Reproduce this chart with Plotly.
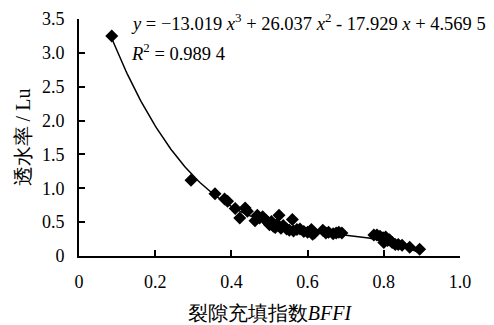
import numpy as np
import plotly.graph_objects as go

bffi = [0.086, 0.294, 0.357, 0.382, 0.390, 0.410, 0.422, 0.436, 0.442, 0.462, 0.468, 0.474,
        0.482, 0.490, 0.496, 0.500, 0.505, 0.510, 0.515, 0.520, 0.525, 0.530, 0.536, 0.545,
        0.552, 0.560, 0.563, 0.572, 0.580, 0.590, 0.600, 0.610, 0.613, 0.618, 0.640, 0.648,
        0.655, 0.667, 0.675, 0.682, 0.690, 0.774, 0.782, 0.790, 0.798, 0.800, 0.805, 0.810,
        0.815, 0.822, 0.830, 0.838, 0.848, 0.868, 0.894]
lu = [3.25, 1.12, 0.92, 0.84, 0.81, 0.70, 0.56, 0.71, 0.66, 0.52, 0.60, 0.56,
      0.58, 0.53, 0.49, 0.46, 0.51, 0.44, 0.42, 0.47, 0.60, 0.41, 0.45, 0.40,
      0.38, 0.54, 0.37, 0.39, 0.40, 0.36, 0.35, 0.39, 0.32, 0.34, 0.38, 0.34,
      0.35, 0.33, 0.34, 0.35, 0.34, 0.31, 0.31, 0.29, 0.27, 0.20, 0.28, 0.23,
      0.24, 0.20, 0.17, 0.17, 0.16, 0.13, 0.10]

coef = [-13.019, 26.037, -17.929, 4.5695]
fit_x = np.linspace(min(bffi), max(bffi), 200)
fit_y = np.polyval(coef, fit_x)

xtick_vals = [0, 0.2, 0.4, 0.6, 0.8, 1.0]
xtick_text = ["0", "0.2", "0.4", "0.6", "0.8", "1.0"]
ytick_vals = [0, 0.5, 1.0, 1.5, 2.0, 2.5, 3.0, 3.5]
ytick_text = ["0", "0.5", "1.0", "1.5", "2.0", "2.5", "3.0", "3.5"]

serif = "Liberation Serif"

L, R, T, B = 79, 34, 19, 69
W, H = 494, 325

fig = go.Figure()
fig.add_trace(go.Scatter(x=fit_x, y=fit_y, mode="lines",
                         line=dict(color="black", width=1.5), showlegend=False))
fig.add_trace(go.Scatter(x=bffi, y=lu, mode="markers",
                         marker=dict(symbol="diamond", size=10, color="black"),
                         showlegend=False))

fig.update_layout(
    width=W, height=H,
    margin=dict(l=L, r=R, t=T, b=B),
    paper_bgcolor="white", plot_bgcolor="white",
    font=dict(family=serif, size=18, color="black"),
    xaxis=dict(range=[0, 1.0], tickvals=xtick_vals, ticktext=xtick_text,
               showgrid=False, zeroline=False, showline=True, linecolor="black",
               linewidth=2, ticks="inside", ticklen=6, tickwidth=1.5, tickcolor="black",
               ticklabelstandoff=8, automargin=False,
               tickfont=dict(family=serif, size=18),
               title=dict(text="裂隙充填指数<i>BFFI</i>", standoff=15,
                          font=dict(family=serif, size=20))),
    yaxis=dict(range=[0, 3.5], tickvals=ytick_vals, ticktext=ytick_text,
               showgrid=False, zeroline=False, showline=True, linecolor="black",
               linewidth=2, ticks="inside", ticklen=6, tickwidth=1.5, tickcolor="black",
               ticklabelstandoff=9, automargin=False,
               tickfont=dict(family=serif, size=18),
               title=dict(text="透水率 / Lu", standoff=6,
                          font=dict(family=serif, size=20))),
)

pw, ph = W - L - R, H - T - B
def px2paper(px, py):
    return (px - L) / pw, (H - B - py) / ph

ax, ay = px2paper(129, 22)
bx, by = px2paper(129, 52)
fig.add_annotation(x=ax, y=ay, xref="paper", yref="paper", showarrow=False,
                   text="<i>y</i> = −13.019 <i>x</i><sup>3</sup> + 26.037 <i>x</i><sup>2</sup> - 17.929 <i>x</i> + 4.569 5",
                   xanchor="left", yanchor="middle", font=dict(family=serif, size=18.5))
fig.add_annotation(x=bx, y=by, xref="paper", yref="paper", showarrow=False,
                   text="<i>R</i><sup>2</sup> = 0.989 4",
                   xanchor="left", yanchor="middle", font=dict(family=serif, size=18.5))

fig.write_html("out.html", config={"displayModeBar": False},
               post_script="document.body.style.margin='0';document.body.style.padding='0';")
